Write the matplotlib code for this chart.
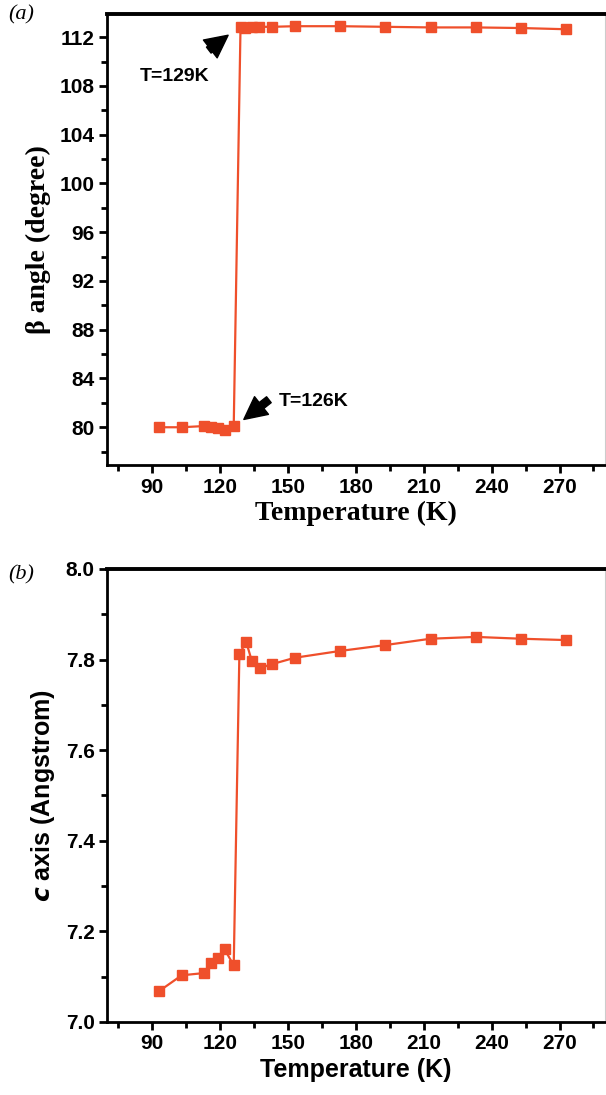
import numpy as np
import matplotlib.pyplot as plt
from matplotlib.ticker import MultipleLocator

# beta angle, low-T phase and high-T phase
temp_low = [93, 103, 113, 116, 119, 122, 126]
beta_low = [80.0, 80.0, 80.1, 80.0, 79.9, 79.8, 80.1]
temp_high = [129, 131, 134, 137, 143, 153, 173, 193, 213, 233, 253, 273]
beta_high = [112.8, 112.75, 112.8, 112.85, 112.85, 112.9, 112.9, 112.85,
             112.8, 112.8, 112.75, 112.65]

# c axis
temp_c = [93, 103, 113, 116, 119, 122, 126, 128.5, 131.5, 134, 137.5,
          143, 153, 173, 193, 213, 233, 253, 273]
c_axis = [7.068, 7.103, 7.108, 7.131, 7.142, 7.160, 7.125, 7.812, 7.839,
          7.797, 7.781, 7.790, 7.804, 7.819, 7.832, 7.846, 7.850, 7.846, 7.843]

xticks = [90, 120, 150, 180, 210, 240, 270]

col = '#EF4F2B'
serif = 'Liberation Serif'
sans = 'Liberation Sans'

fig = plt.figure(figsize=(6.06, 10.95), dpi=100)
ax1 = fig.add_axes([0.1766, 0.5753, 0.8214, 0.4119])
ax2 = fig.add_axes([0.1766, 0.0667, 0.8214, 0.4137])


def style_axes(ax):
    ax.spines['top'].set_linewidth(2.8)
    ax.spines['left'].set_linewidth(2.0)
    ax.spines['bottom'].set_linewidth(2.0)
    ax.spines['right'].set_linewidth(0.8)
    ax.spines['right'].set_color('#cccccc')
    ax.tick_params(which='major', direction='out', length=6, width=2,
                   top=False, right=False, pad=3)
    ax.tick_params(which='minor', direction='out', length=4, width=2,
                   top=False, right=False)
    ax.set_xlim(70, 290)
    ax.set_xticks(xticks)
    ax.xaxis.set_minor_locator(MultipleLocator(15))
    for lab in ax.get_xticklabels() + ax.get_yticklabels():
        lab.set_fontfamily(sans)
        lab.set_fontweight('bold')
        lab.set_fontsize(15)


# (a) beta angle
ax1.plot(temp_low + temp_high, beta_low + beta_high, color=col, lw=1.6,
         marker='s', ms=6.5, mec=col, mfc=col)
ax1.set_ylim(76.9, 113.9)
ax1.set_yticks(np.arange(80, 113, 4))
ax1.yaxis.set_minor_locator(MultipleLocator(2))
style_axes(ax1)
ax1.set_xlabel('Temperature (K)', fontfamily=serif, fontweight='bold',
               fontsize=20, labelpad=3)
ax1.set_ylabel('β angle (degree)', fontfamily=serif, fontweight='bold',
               fontsize=20, labelpad=6)

arrow = 'simple,head_length=0.9,head_width=0.9,tail_width=0.3'
ax1.annotate('', xy=(124.5, 112.3), xytext=(114, 110.8),
             arrowprops=dict(arrowstyle=arrow, color='k', mutation_scale=18))
ax1.text(100, 108.8, 'T=129K', ha='center', va='center', fontfamily=sans,
         fontweight='bold', fontsize=14)
ax1.annotate('', xy=(129.5, 80.5), xytext=(142.5, 82.4),
             arrowprops=dict(arrowstyle=arrow, color='k', mutation_scale=18))
ax1.text(146, 82.1, 'T=126K', ha='left', va='center', fontfamily=sans,
         fontweight='bold', fontsize=14)

# (b) c axis
ax2.plot(temp_c, c_axis, color=col, lw=1.6, marker='s', ms=6.5,
         mec=col, mfc=col)
ax2.set_ylim(7.0, 8.0)
ax2.set_yticks([7.0, 7.2, 7.4, 7.6, 7.8, 8.0])
ax2.set_yticklabels(['7.0', '7.2', '7.4', '7.6', '7.8', '8.0'])
ax2.yaxis.set_minor_locator(MultipleLocator(0.1))
style_axes(ax2)
ax2.set_xlabel('Temperature (K)', fontfamily=sans, fontweight='bold',
               fontsize=18, labelpad=3)
ax2.set_ylabel(r'$\mathbfit{c}$ axis (Angstrom)', fontfamily=sans,
               fontweight='bold', fontsize=18, labelpad=6)

fig.text(0.013, 0.986, '(a)', fontfamily=serif, fontstyle='italic',
         fontsize=16, va='center')
fig.text(0.013, 0.475, '(b)', fontfamily=serif, fontstyle='italic',
         fontsize=16, va='center')

fig.savefig('out.png', dpi=100)
